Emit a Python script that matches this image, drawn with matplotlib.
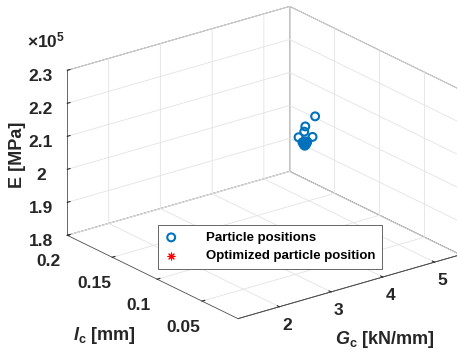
import numpy as np
import matplotlib
matplotlib.use('Agg')
import matplotlib.pyplot as plt
from matplotlib.ticker import FuncFormatter

# particle positions (Gc [kN/mm], lc [mm], E [MPa])
gc = [4.00, 4.03, 4.05, 4.01, 4.04, 4.02, 4.06, 3.99, 4.02, 4.04, 4.03, 4.00,
      3.90, 4.17, 4.01, 4.03, 4.22]
lc = [0.098, 0.099, 0.097, 0.100, 0.098, 0.096, 0.099, 0.097, 0.098, 0.097, 0.099, 0.098,
      0.098, 0.098, 0.098, 0.098, 0.098]
e = [2.090e5, 2.085e5, 2.092e5, 2.088e5, 2.082e5, 2.095e5, 2.087e5, 2.093e5,
     2.080e5, 2.089e5, 2.091e5, 2.084e5,
     2.111e5, 2.100e5, 2.123e5, 2.138e5, 2.160e5]

# optimized particle position
opt_gc = [4.03]
opt_lc = [0.098]
opt_e = [2.088e5]

gc_ticks = [2, 3, 4, 5]
lc_ticks = [0.05, 0.1, 0.15, 0.2]
e_ticks = [1.8e5, 1.9e5, 2.0e5, 2.1e5, 2.2e5, 2.3e5]

plt.rcParams['font.family'] = ['Liberation Sans', 'DejaVu Sans']
plt.rcParams['font.weight'] = 'bold'
plt.rcParams['mathtext.fontset'] = 'custom'
plt.rcParams['mathtext.rm'] = 'Liberation Sans:bold'
plt.rcParams['mathtext.it'] = 'Liberation Sans:italic:bold'
plt.rcParams['mathtext.bf'] = 'Liberation Sans:bold'
plt.rcParams['grid.color'] = '#e3e3e3'
plt.rcParams['grid.linewidth'] = 0.6

txt = '#262626'
blue = '#0072BD'

fig = plt.figure(figsize=(4.57, 3.56), dpi=100)
ax = fig.add_axes([0.0668, 0.0300, 1, 1], projection='3d', proj_type='ortho')
ax.computed_zorder = False
ax.view_init(elev=22.0, azim=-127.5)
ax.set_box_aspect((1, 1, 0.635), zoom=1.185)

ax.scatter(opt_gc, opt_lc, opt_e, marker=(8, 2, 0), color='red', s=25, linewidths=0.8,
           depthshade=False, zorder=1, label='Optimized particle position')
ax.scatter(gc, lc, e, facecolors='none', edgecolors=blue, s=32, linewidths=1.5,
           depthshade=False, zorder=2, label='Particle positions')

ax.set_xlim(1.2, 5.5)
ax.set_ylim(0.01, 0.2)
ax.set_zlim(1.8e5, 2.3e5)
ax.set_xticks(gc_ticks)
ax.set_yticks(lc_ticks)
ax.set_zticks(e_ticks)
ax.set_xticklabels([f'{v:g}' for v in gc_ticks])
ax.set_yticklabels([f'{v:g}' for v in lc_ticks])
ax.zaxis.set_major_formatter(FuncFormatter(lambda v, p: f'{v / 1e5:g}'))

for axis in (ax.xaxis, ax.yaxis, ax.zaxis):
    axis.set_pane_color((1, 1, 1, 1))
    axis.pane.set_edgecolor('#4d4d4d')
    axis.pane.set_linewidth(0.6)
    axis.line.set_color('#4d4d4d')
    axis.line.set_linewidth(0.6)
    axis._axinfo['tick']['inward_factor'] = 0.0
    axis._axinfo['tick']['outward_factor'] = 0.15
    axis._axinfo['tick']['color'] = '#4d4d4d'
ax.tick_params(labelsize=12.5, colors=txt, pad=0)
ax.tick_params(axis='x', pad=-2)
ax.tick_params(axis='y', pad=3)
ax.tick_params(axis='z', pad=1)

fig.text(18 / 457, 0.565, 'E [MPa]', rotation=90, ha='center', va='center',
         fontsize=13, color=txt)
fig.text(104 / 457, 1 - 336 / 356, r'$\mathit{l}_{\mathrm{c}}$ [mm]', ha='center',
         va='center', fontsize=13, color=txt)
fig.text(385 / 457, 1 - 340 / 356, r'$\mathit{G}_{\mathrm{c}}$ [kN/mm]', ha='center',
         va='center', fontsize=13, color=txt)
fig.text(27 / 457, 1 - 40 / 356, r'$\times\mathrm{10}^{\mathrm{5}}$', ha='left',
         va='center', fontsize=12.5, color=txt)

handles, labels = ax.get_legend_handles_labels()
leg = ax.legend(handles[::-1], labels[::-1], loc='upper left',
                bbox_to_anchor=(158 / 457, 1 - 225 / 356), bbox_transform=fig.transFigure,
                fontsize=9.5, frameon=True, fancybox=False, framealpha=1,
                edgecolor='#4d4d4d', borderaxespad=0, handlelength=1.0,
                handletextpad=2.1, borderpad=0.5, labelspacing=0.45)
leg.get_frame().set_linewidth(0.6)

fig.savefig('out.png', dpi=100)
